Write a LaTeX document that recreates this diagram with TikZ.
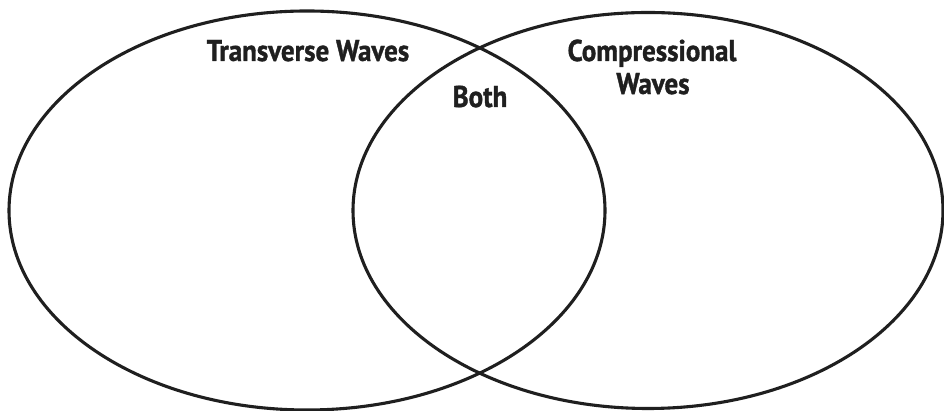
\documentclass[tikz,border=0pt]{standalone}
\usepackage{fontspec}
\newfontfamily\labelfont[FakeStretch=0.9,FakeBold=1.2]{PT Sans Bold}
\begin{document}
\begin{tikzpicture}[x=1pt,y=1pt,
  venn/.style={line width=3.1pt, draw=black!88},
  vlabel/.style={font=\labelfont\fontsize{30}{36}\selectfont, text=black!88, inner sep=0pt, anchor=base}]
\useasboundingbox (0,0) rectangle (944,411);
\clip (0,0) rectangle (944,411);
\fill[white] (0,0) rectangle (944,411);
\draw[venn] (307,200.5) ellipse [x radius=298, y radius=199.5];
\draw[venn] (648,200.5) ellipse [x radius=295, y radius=198];
\node[vlabel] (trans) at (308,350) {Transverse Waves};
\node[vlabel] (comp) at (652,350) {Compressional};
\node[vlabel] (waves) at (653,317) {Waves};
\node[vlabel] (both) at (480,304) {Both};
\end{tikzpicture}
\end{document}
